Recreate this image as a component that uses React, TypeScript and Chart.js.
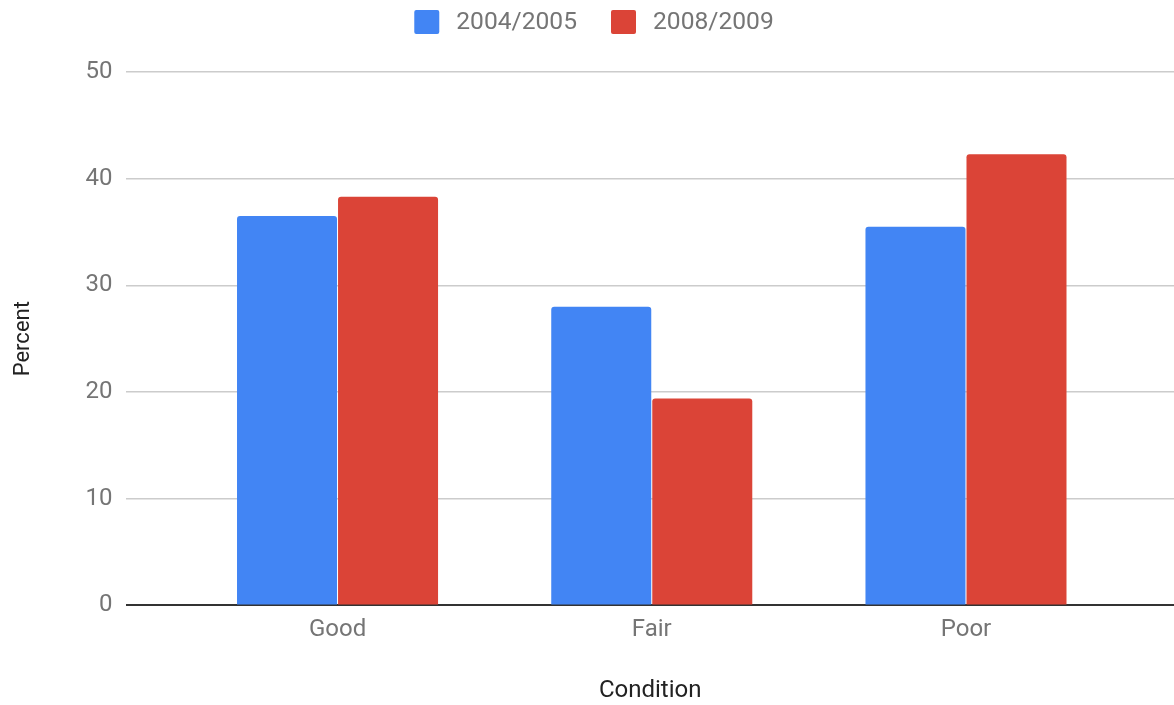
import React, { useEffect, useRef } from "react";
import { Chart, registerables } from "chart.js";

Chart.register(...registerables);

// Survey results by condition
const categories = ["Good", "Fair", "Poor"];
const seriesLabels = ["2004/2005", "2008/2009"];
const values2004 = [36.5, 28.0, 35.5];
const values2008 = [38.3, 19.4, 42.3];
const seriesColors = ["#4285F4", "#DB4437"];
const yTickValues = [0, 10, 20, 30, 40, 50];

const FONT = "Roboto, 'Noto Sans', Arial, sans-serif";

// Legend drawn centred above the plot: square swatch + label per dataset
const topLegend = {
  id: "topLegend",
  afterDraw(chart: any) {
    const ctx = chart.ctx as CanvasRenderingContext2D;
    const boxW = 25;
    const boxH = 24;
    const textGap = 17;
    const itemGap = 34;
    ctx.save();
    ctx.font = `24.6px ${FONT}`;
    const items = chart.data.datasets.map((ds: any) => ({
      text: ds.label as string,
      color: ds.backgroundColor as string,
      w: ctx.measureText(ds.label).width,
    }));
    const total =
      items.reduce((s: number, it: any) => s + boxW + textGap + it.w, 0) +
      itemGap * (items.length - 1);
    let x = chart.width / 2 + 7 - total / 2;
    const cy = 22;
    for (const it of items) {
      ctx.fillStyle = it.color;
      ctx.beginPath();
      (ctx as any).roundRect(x, cy - boxH / 2, boxW, boxH, 2);
      ctx.fill();
      x += boxW + textGap;
      ctx.fillStyle = "#757575";
      ctx.textBaseline = "middle";
      ctx.textAlign = "left";
      ctx.fillText(it.text, x, cy + 1);
      x += it.w + itemGap;
    }
    ctx.restore();
  },
};

export default function App() {
  const canvasRef = useRef<HTMLCanvasElement | null>(null);

  useEffect(() => {
    if (!canvasRef.current) return;
    const toPoints = (vals: number[]) => vals.map((y, i) => ({ x: i, y }));
    const chart = new Chart(canvasRef.current, {
      type: "bar",
      data: {
        datasets: [
          {
            label: seriesLabels[0],
            data: toPoints(values2004),
            backgroundColor: seriesColors[0],
          },
          {
            label: seriesLabels[1],
            data: toPoints(values2008),
            backgroundColor: seriesColors[1],
          },
        ],
      },
      options: {
        responsive: false,
        animation: false,
        layout: { padding: { top: 72, left: 10, right: 0, bottom: 0 } },
        datasets: {
          bar: {
            categoryPercentage: 0.643,
            barPercentage: 0.99,
            borderRadius: 3,
            borderSkipped: "start",
          },
        },
        plugins: {
          legend: { display: false },
          tooltip: { enabled: false },
        },
        scales: {
          x: {
            type: "linear",
            offset: false,
            min: -0.672,
            max: 2.662,
            afterBuildTicks: (scale: any) => {
              scale.ticks = categories.map((_, i) => ({ value: i }));
            },
            grid: { display: false, drawTicks: false, offset: false },
            border: { display: false },
            ticks: {
              padding: 10,
              color: "#757575",
              font: { family: FONT, size: 24 },
              callback: (v: any) => categories[v as number] ?? "",
            },
            title: {
              display: true,
              text: "Condition",
              color: "#222222",
              font: { family: FONT, size: 24 },
              padding: { top: 22, bottom: 0 },
            },
          },
          y: {
            min: 0,
            max: 50,
            afterBuildTicks: (scale: any) => {
              scale.ticks = yTickValues.map((v) => ({ value: v }));
            },
            grid: {
              drawTicks: false,
              color: (c: any) => (c.tick && c.tick.value === 0 ? "#333333" : "#cccccc"),
              lineWidth: (c: any) => (c.tick && c.tick.value === 0 ? 2 : 1.5),
            },
            border: { display: false },
            ticks: {
              padding: 14,
              color: "#757575",
              font: { family: FONT, size: 24 },
            },
            title: {
              display: true,
              text: "Percent",
              color: "#222222",
              font: { family: FONT, size: 22 },
              padding: { top: 0, bottom: 35 },
            },
          },
        },
      },
      plugins: [topLegend],
    });
    return () => chart.destroy();
  }, []);

  return (
    <div style={{ position: "absolute", left: 0, top: 0, width: 1174, height: 705, background: "#ffffff" }}>
      <canvas ref={canvasRef} width={1174} height={705} style={{ display: "block" }} />
    </div>
  );
}
